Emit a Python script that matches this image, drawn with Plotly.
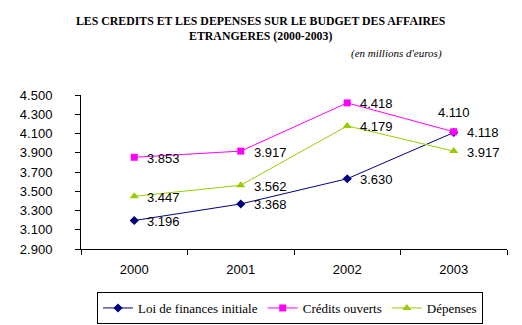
import plotly.graph_objects as go

# Budget data (millions of euros)
years = ["2000", "2001", "2002", "2003"]
loi_finances = [3196, 3368, 3630, 4110]
credits_ouverts = [3853, 3917, 4418, 4118]
depenses = [3447, 3562, 4179, 3917]

y_ticks = [2900, 3100, 3300, 3500, 3700, 3900, 4100, 4300, 4500]

series = [
    ("Loi de finances initiale", loi_finances, "#000080", "diamond", 7),
    ("Crédits ouverts", credits_ouverts, "#FF00FF", "square", 7),
    ("Dépenses", depenses, "#99CC00", "triangle-up", 8),
]

SERIF = "'Liberation Serif', 'Times New Roman', serif"
SANS = "'Liberation Sans', Arial, sans-serif"


def fmt(v):
    return f"{v:,}".replace(",", ".")


fig = go.Figure()
for name, vals, color, symbol, size in series:
    fig.add_trace(go.Scatter(
        x=years, y=vals, name=name, mode="lines+markers",
        line=dict(color=color, width=1),
        marker=dict(symbol=symbol, size=size, color=color),
    ))

# value labels beside each point (category axis positions are serial indices)
annotations = []
for name, vals, color, symbol, size in series:
    for i, v in enumerate(vals):
        if name == "Loi de finances initiale" and i == len(vals) - 1:
            annotations.append(dict(x=i, y=v, text=fmt(v), showarrow=False,
                                    xanchor="center", yanchor="middle", yshift=20,
                                    font=dict(family=SANS, size=13, color="black")))
        else:
            annotations.append(dict(x=i, y=v, text=fmt(v), showarrow=False,
                                    xanchor="left", yanchor="middle", xshift=11, yshift=-1,
                                    font=dict(family=SANS, size=13, color="black")))

annotations.append(dict(
    xref="paper", yref="paper", x=(261 - 81) / 426, y=1 + (95 - 28) / 154,
    text="<b>LES CREDITS ET LES DEPENSES SUR LE BUDGET DES AFFAIRES<br>ETRANGERES (2000-2003)</b>",
    showarrow=False, xanchor="center", yanchor="middle", align="center",
    font=dict(family=SERIF, size=11.8, color="black"),
))
annotations.append(dict(
    xref="paper", yref="paper", x=(444 - 81) / 426, y=1 + (95 - 53) / 154,
    text="<i>(en millions d'euros)</i>", showarrow=False,
    xanchor="right", yanchor="middle",
    font=dict(family=SERIF, size=11, color="black"),
))

fig.update_layout(
    width=522, height=325,
    margin=dict(l=81, r=15, t=95, b=76),
    paper_bgcolor="white", plot_bgcolor="white",
    separators=",.",
    showlegend=True,
    legend=dict(
        orientation="h", xref="container", yref="container",
        x=290 / 522, xanchor="center", y=1 - 292 / 325, yanchor="top",
        bordercolor="black", borderwidth=1,
        font=dict(family=SERIF, size=13, color="black"),
        itemwidth=30, tracegroupgap=0,
    ),
    annotations=annotations,
)

fig.update_xaxes(
    type="category", range=[-0.5, 3.5], tickson="boundaries",
    ticks="outside", ticklen=5, tickcolor="black",
    showline=True, linecolor="black", linewidth=1,
    showgrid=False, zeroline=False, ticklabelstandoff=8,
    tickfont=dict(family=SANS, size=13, color="black"),
)
fig.update_yaxes(
    range=[2900, 4500], tickvals=y_ticks, ticktext=[fmt(v) for v in y_ticks],
    ticks="outside", ticklen=5, tickcolor="black",
    showline=True, linecolor="black", linewidth=1,
    showgrid=False, zeroline=False, ticklabelstandoff=20,
    tickfont=dict(family=SANS, size=13, color="black"),
)

fig.write_html("out.html")
